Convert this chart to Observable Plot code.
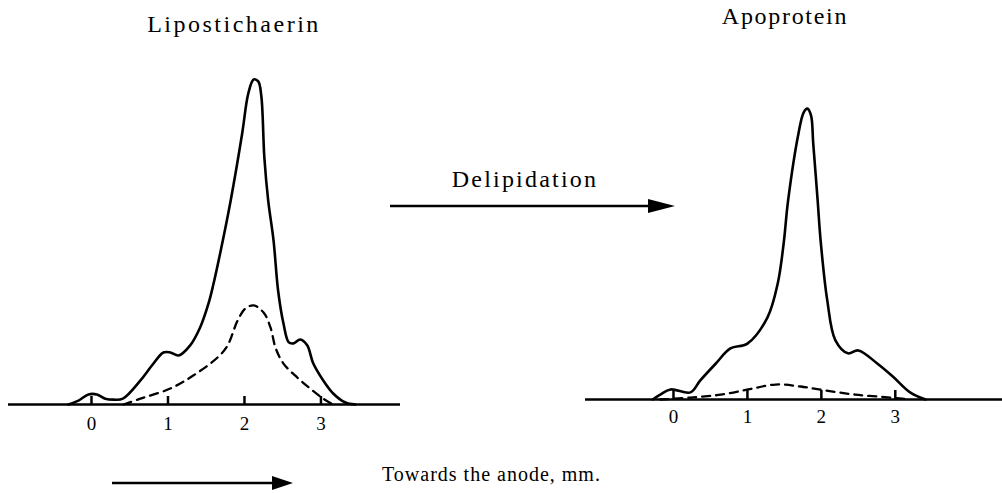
<!DOCTYPE html>
<html><head><meta charset="utf-8">
<script src="https://cdn.jsdelivr.net/npm/d3@7"></script>
<script src="https://cdn.jsdelivr.net/npm/@observablehq/plot@0.6"></script>
<style>
html,body{margin:0;padding:0;background:#fff;}
#fig{position:relative;width:1002px;height:493px;overflow:hidden;}
#fig > svg{position:absolute;top:0;}
</style></head><body><div id="fig"></div>
<script>
// ---- data (mm from origin, relative intensity) ----
const ticks = [0, 1, 2, 3];
const tickLabels = ["0", "1", "2", "3"];

const lipoSolidX = [-0.30,-0.17,-0.04,0.07,0.18,0.29,0.41,0.64,0.80,0.94,1.03,1.14,1.29,1.42,1.53,1.59,1.69,1.82,1.97,2.05,2.12,2.18,2.22,2.26,2.31,2.38,2.44,2.51,2.58,2.64,2.73,2.82,2.90,3.03,3.16,3.32,3.45];
const lipoSolidY = [0,1.2,3.1,3.1,1.8,1.5,1.8,7.4,12.3,16,16,15.1,18.2,23.7,31.1,36.6,47.4,62.8,83.4,95.7,100,99.4,95,76,62.8,50.5,35,24.9,19.1,18.8,20,18.2,12.6,7.4,3.4,0.6,0];

const lipoDashX = [0.42,0.64,1.03,1.33,1.65,1.78,1.91,2.01,2.12,2.25,2.34,2.41,2.51,2.69,2.86,3.03,3.16];
const lipoDashY = [0,1.8,4.9,8.9,14.5,18.2,25.8,29.5,30.5,28.3,23.7,17.2,12.6,8.3,4.9,1.8,0];

const apoSolidX = [-0.28,-0.18,-0.04,0.23,0.36,0.57,0.77,1.0,1.27,1.41,1.49,1.55,1.69,1.76,1.81,1.86,1.89,1.95,1.99,2.08,2.19,2.36,2.50,2.76,2.97,3.2,3.41];
const apoSolidY = [0,1.5,3.1,2.2,5.8,11,15.7,17.2,25.2,35.7,48,61.2,81.8,88.3,89.5,87.4,78.8,61.2,48.9,30.5,18.2,14.2,15.1,11,7,2.2,0];

const apoDashX = [-0.18,0.23,0.64,1.01,1.38,1.72,2.05,2.46,2.93,3.2];
const apoDashY = [0,0.6,1.5,3.1,4.6,4.0,2.8,1.5,0.6,0];

const panelTitles = ["Lipostichaerin", "Apoprotein"];
const arrowLabel = "Delipidation";
const axisCaption = "Towards the anode, mm.";

const toRows = (xs, ys) => xs.map((x, i) => ({x, y: ys[i]}));

const FONT = "'Liberation Serif', 'DejaVu Serif', serif";

function panel(o) {
  return Plot.plot({
    width: o.width, height: 493,
    marginLeft: o.ml, marginRight: o.mr, marginTop: o.mt, marginBottom: o.mb,
    x: {domain: o.domain, axis: null},
    y: {domain: [0, 100], axis: null},
    style: {background: "transparent", fontFamily: FONT, color: "#000", overflow: "visible"},
    marks: [
      Plot.ruleY([0], {stroke: "#000", strokeWidth: 2.5}),
      Plot.axisX({ticks, tickSize: o.tickLen, dy: -o.tickLen, tickFormat: () => "", label: null, strokeWidth: 2.5, stroke: "#000"}),
      Plot.axisX({ticks, tickSize: 0, tickPadding: o.pad, tickFormat: d => tickLabels[ticks.indexOf(d)], label: null, fontSize: 19, fill: "#000"}),
      Plot.line(toRows(o.dashX, o.dashY), {x: "x", y: "y", curve: "catmull-rom", stroke: "#000", strokeWidth: 2.3, strokeDasharray: "8,6"}),
      Plot.line(toRows(o.solidX, o.solidY), {x: "x", y: "y", curve: "catmull-rom", stroke: "#000", strokeWidth: 2.6})
    ]
  });
}

const fig = document.getElementById("fig");

const left = panel({width: 410, ml: 8, mr: 10, mt: 79, mb: 89, domain: [-1.085, 4.04],
  solidX: lipoSolidX, solidY: lipoSolidY, dashX: lipoDashX, dashY: lipoDashY, tickLen: 8, pad: 12});
left.style.left = "0px";
fig.appendChild(left);

const right = panel({width: 427, ml: 10, mr: 0, mt: 74, mb: 94, domain: [-1.19, 4.45],
  solidX: apoSolidX, solidY: apoSolidY, dashX: apoDashX, dashY: apoDashY, tickLen: 9, pad: 10});
right.style.left = "575px";
fig.appendChild(right);

// ---- annotations overlay ----
const ov = d3.create("svg").attr("width", 1002).attr("height", 493)
  .style("left", "0px").style("font-family", FONT);
const txt = (s, x, y, size, ls) => ov.append("text").attr("x", x).attr("y", y)
  .attr("text-anchor", "middle").attr("font-size", size).attr("letter-spacing", ls).attr("fill", "#000").text(s);
txt(panelTitles[0], 234, 32, 24, 2.5);
txt(panelTitles[1], 785, 24, 24, 1.7);
txt(arrowLabel, 525, 187, 24, 2.2);
ov.append("text").attr("x", 382).attr("y", 481).attr("font-size", 20).attr("letter-spacing", 1)
  .attr("fill", "#000").text(axisCaption);
function arrow(x1, x2, y, hl, hw) {
  ov.append("line").attr("x1", x1).attr("x2", x2 - hl + 2).attr("y1", y).attr("y2", y)
    .attr("stroke", "#000").attr("stroke-width", 2.5);
  ov.append("path").attr("d", `M${x2 - hl},${y - hw}L${x2},${y}L${x2 - hl},${y + hw}Z`).attr("fill", "#000");
}
arrow(390, 675, 206, 27, 7);
arrow(112, 293, 483, 21, 7);
fig.appendChild(ov.node());
</script></body></html>
